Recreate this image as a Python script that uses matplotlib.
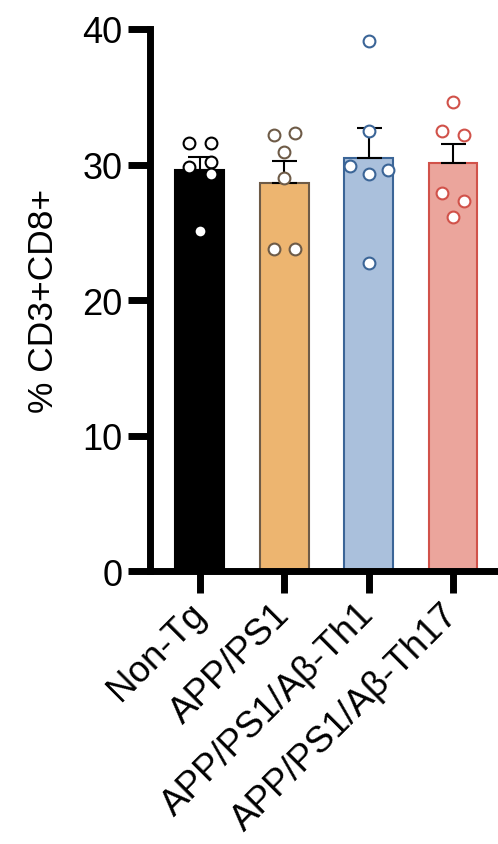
import numpy as np
import matplotlib
matplotlib.use("Agg")
import matplotlib.pyplot as plt

plt.rcParams['font.family'] = ['Liberation Sans', 'DejaVu Sans']

groups = ['Non-Tg', 'APP/PS1', 'APP/PS1/Aβ-Th1', 'APP/PS1/Aβ-Th17']

non_tg = [31.6, 31.6, 29.8, 30.2, 29.3, 25.1]
app_ps1 = [32.2, 32.3, 30.9, 29.0, 23.8, 23.8]
th1 = [39.1, 32.5, 29.9, 29.3, 29.6, 22.7]
th17 = [34.6, 32.5, 32.2, 27.9, 27.3, 26.1]

# horizontal spread of the dots, in category units
jitter_non_tg = [-0.127, 0.127, -0.127, 0.127, 0.127, 0]
jitter_app_ps1 = [-0.127, 0.127, 0, 0, -0.127, 0.127]
jitter_th1 = [0, 0, -0.227, 0, 0.227, 0]
jitter_th17 = [0, -0.127, 0.127, -0.127, 0.127, 0]

yticks = [0, 10, 20, 30, 40]

data = [non_tg, app_ps1, th1, th17]
jitters = [jitter_non_tg, jitter_app_ps1, jitter_th1, jitter_th17]
fills = ['#000000', '#EDB570', '#AAC0DC', '#EBA59C']
edges = ['#000000', '#6E5B47', '#3B6597', '#D1524A']

fig = plt.figure(figsize=(4.98, 8.45), dpi=100)
ax = fig.add_axes([0.302, 0.323, 0.698, 0.6415])

x = np.arange(len(groups))
means = [np.mean(d) for d in data]
sems = [np.std(d, ddof=1) / np.sqrt(len(d)) for d in data]

ax.bar(x, means, width=0.58, color=fills, edgecolor=edges, linewidth=1.5, zorder=1)
ax.errorbar(x, means, yerr=[np.zeros(len(x)), sems], fmt='none', ecolor='black',
            elinewidth=1.5, capsize=9, capthick=1.5, zorder=2)

for i, (vals, jit) in enumerate(zip(data, jitters)):
    ax.plot(i + np.array(jit), vals, 'o', ms=8.5, mfc='white', mec=edges[i],
            mew=1.5, zorder=3, clip_on=False)

ax.set_xlim(-0.587, 3.533)
ax.set_ylim(0, 40)
ax.set_yticks(yticks)
ax.set_xticks(x)
ax.set_xticklabels(groups, rotation=45, ha='right', va='center', rotation_mode='anchor',
                   fontsize=26.5)
ax.set_ylabel('% CD3+CD8+', fontsize=25.5, labelpad=16)

for side in ['top', 'right']:
    ax.spines[side].set_visible(False)
for side in ['left', 'bottom']:
    ax.spines[side].set_linewidth(5)
ax.tick_params(axis='both', width=5, length=16, pad=4)
ax.tick_params(axis='y', labelsize=26)
ax.tick_params(axis='x', pad=11)

fig.savefig('out.png', dpi=100)
